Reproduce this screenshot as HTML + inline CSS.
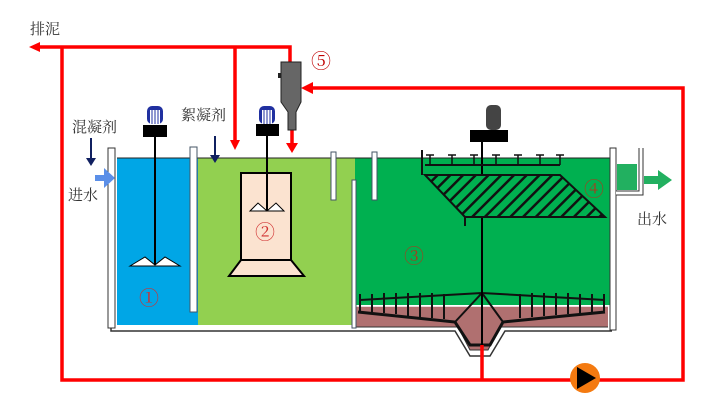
<!DOCTYPE html>
<html><head><meta charset="utf-8"><style>
body{margin:0;background:#fff}
svg{display:block}
text{font-family:"Liberation Serif","Noto Serif CJK SC",serif}
</style></head><body>
<svg width="702" height="408" viewBox="0 0 702 408" xmlns="http://www.w3.org/2000/svg">
<defs>
<pattern id="h" width="9" height="9" patternUnits="userSpaceOnUse" patternTransform="rotate(45)">
<rect width="9" height="9" fill="#00b050"/><rect width="2.5" height="9" fill="#111"/></pattern>
</defs>
<!-- tank outer -->
<path d="M111,148 V331 H455 L470,356 H490 L505,331 H612" fill="none" stroke="#333" stroke-width="1.5"/>
<!-- waters -->
<rect x="117" y="158" width="81" height="167" fill="#00a6e6"/>
<rect x="198" y="158" width="157" height="167" fill="#92d050"/>
<rect x="355" y="158" width="255" height="147" fill="#00b050"/>
<line x1="117" y1="158" x2="610" y2="158" stroke="#222" stroke-width="1"/>
<!-- sludge -->
<path d="M356,306 H608 V327 H500 L488,350 H470 L458,327 H356 Z" fill="#b07070"/>
<line x1="356" y1="306" x2="608" y2="306" stroke="#fff" stroke-width="1.5"/>
<path d="M356,327 H458 L470,350 H488 L500,327 H608" fill="none" stroke="#333"/>
<path d="M358,312 L455,322 L470,345 H490 L503,322 L605,312" fill="none" stroke="#111" stroke-width="3"/>
<path d="M360,300 L482,293 L605,300 M455,322 L482,293 L503,322" fill="none" stroke="#111" stroke-width="2"/>
<g stroke="#111" stroke-width="2">
<line x1="360" y1="294" x2="360" y2="311"/><line x1="372" y1="294" x2="372" y2="312"/><line x1="384" y1="293" x2="384" y2="313"/><line x1="396" y1="293" x2="396" y2="314"/><line x1="408" y1="293" x2="408" y2="316"/><line x1="420" y1="293" x2="420" y2="317"/><line x1="432" y1="293" x2="432" y2="318"/><line x1="444" y1="294" x2="444" y2="319"/><line x1="520" y1="294" x2="520" y2="318"/><line x1="532" y1="293" x2="532" y2="317"/><line x1="544" y1="293" x2="544" y2="316"/><line x1="556" y1="293" x2="556" y2="315"/><line x1="568" y1="293" x2="568" y2="314"/><line x1="580" y1="294" x2="580" y2="313"/><line x1="592" y1="294" x2="592" y2="312"/><line x1="604" y1="294" x2="604" y2="311"/>
</g>
<!-- baffles/walls -->
<rect x="108" y="148" width="7" height="180" fill="#fff" stroke="#333"/>
<rect x="190" y="147" width="7" height="165" fill="#fff" stroke="#456"/>
<rect x="331" y="152" width="5" height="48" fill="#fff" stroke="#456"/>
<rect x="352" y="180" width="4" height="148" fill="#fff" stroke="#456"/>
<rect x="372" y="152" width="5" height="48" fill="#fff" stroke="#456"/>
<rect x="610" y="148" width="6" height="182" fill="#fff" stroke="#333"/>
<path d="M616,193 H641 V148" fill="none" stroke="#333" stroke-width="5"/>
<path d="M616,193 H641 V148" fill="none" stroke="#fff" stroke-width="3"/>
<rect x="617" y="164" width="20" height="26" fill="#22b060"/>
<path d="M644,176 H658 V170 L672,180 L658,190 V184 H644 Z" fill="#22b060"/>
<!-- inlet -->
<path d="M95,175 H104 V168 L115,178 L104,188 V181 H95 Z" fill="#5b8fe8"/>
<!-- motors -->
<g>
<rect x="147" y="106" width="16" height="18" rx="5" fill="#2030a0"/><rect x="150" y="110" width="10" height="14" fill="#fff"/>
<line x1="152" y1="110" x2="152" y2="124" stroke="#2030a0"/><line x1="155" y1="110" x2="155" y2="124" stroke="#2030a0"/><line x1="158" y1="110" x2="158" y2="124" stroke="#2030a0"/>
<rect x="143" y="125" width="24" height="12" fill="#000"/>
<line x1="155" y1="137" x2="155" y2="265" stroke="#000" stroke-width="2"/>
<path d="M130,266 L145,257 L155,265 L165,257 L180,266 Z" fill="#fff" stroke="#000"/>
</g>
<g>
<rect x="259" y="106" width="16" height="18" rx="5" fill="#2030a0"/><rect x="262" y="110" width="10" height="14" fill="#fff"/>
<line x1="264" y1="110" x2="264" y2="124" stroke="#2030a0"/><line x1="267" y1="110" x2="267" y2="124" stroke="#2030a0"/><line x1="270" y1="110" x2="270" y2="124" stroke="#2030a0"/>
<rect x="256" y="124" width="23" height="12" fill="#000"/>
<rect x="241" y="173" width="50" height="87" fill="#fbe3d0" stroke="#000" stroke-width="2"/>
<path d="M241,260 H291 L304,276 H229 Z" fill="#fbe3d0" stroke="#000" stroke-width="2"/>
<line x1="267" y1="136" x2="267" y2="211" stroke="#000" stroke-width="2"/>
<path d="M250,211 L258,203 L267,211 L276,203 L284,211 Z" fill="#fff" stroke="#000"/>
</g>
<g>
<rect x="486" y="105" width="15" height="25" rx="5" fill="#444"/>
<rect x="470" y="130" width="38" height="12" fill="#000"/>
<line x1="482" y1="142" x2="482" y2="345" stroke="#000" stroke-width="2"/>
</g>
<!-- lamella -->
<path d="M425,175 H560 L605,217 H465 Z" fill="url(#h)" stroke="#111" stroke-width="2"/>
<path d="M422,150 V175 M425,165 H560 M465,217 V226" stroke="#111" stroke-width="2" fill="none"/>
<g stroke="#111" stroke-width="1.5" fill="none">
<path d="M430,165 V155 M452,165 V155 M474,165 V155 M496,165 V155 M518,165 V155 M540,165 V155 M560,165 V155"/>
<path d="M426,155 H434 M448,155 H456 M470,155 H478 M492,155 H500 M514,155 H522 M536,155 H544 M556,155 H564"/>
</g>
<!-- red lines -->
<g stroke="#f00" stroke-width="3.5" fill="none">
<path d="M36,47 H290 V62"/>
<path d="M62,47 V380 H683 V88 H310"/>
<path d="M235,47 V140"/>
<path d="M292,130 V145"/>
<path d="M482,345 V380"/>
</g>
<path d="M29,47 L40,42 L40,52 Z" fill="#f00"/>
<path d="M230,140 H240 L235,150 Z" fill="#f00"/>
<path d="M286,143 H298 L292,153 Z" fill="#f00"/>
<path d="M301,88 L313,82 L313,94 Z" fill="#f00"/>
<!-- cyclone -->
<path d="M281,62 H301 V102 L296,112 V130 H288 V112 L281,102 Z" fill="#666" stroke="#222"/>
<rect x="278" y="73" width="3" height="5" fill="#222"/>
<!-- pump -->
<circle cx="585" cy="378" r="15" fill="#f47a10"/>
<path d="M577,367 L596,378 L577,389 Z" fill="#000"/>
<!-- dosing arrows -->
<path d="M91,138 V160" stroke="#102060" stroke-width="2"/><path d="M86,158 H96 L91,166 Z" fill="#102060"/>
<path d="M215,136 V157" stroke="#102060" stroke-width="2"/><path d="M210,155 H220 L215,163 Z" fill="#102060"/>
<!-- texts -->
<g font-size="15" fill="#333">
<text x="30" y="34">排泥</text>
<text x="72" y="132">混凝剂</text>
<text x="181" y="120">絮凝剂</text>
<text x="68" y="200">进水</text>
<text x="637" y="224">出水</text>
</g>
<g font-size="20" fill="#c00000">
<text x="311" y="68">⑤</text>
<text x="139" y="305" fill="#d03030">①</text>
<text x="255" y="239" fill="#d03030">②</text>
<text x="404" y="263" fill="#a04020">③</text>
<text x="584" y="196" fill="#a04020">④</text>
</g>
</svg>
</body></html>
